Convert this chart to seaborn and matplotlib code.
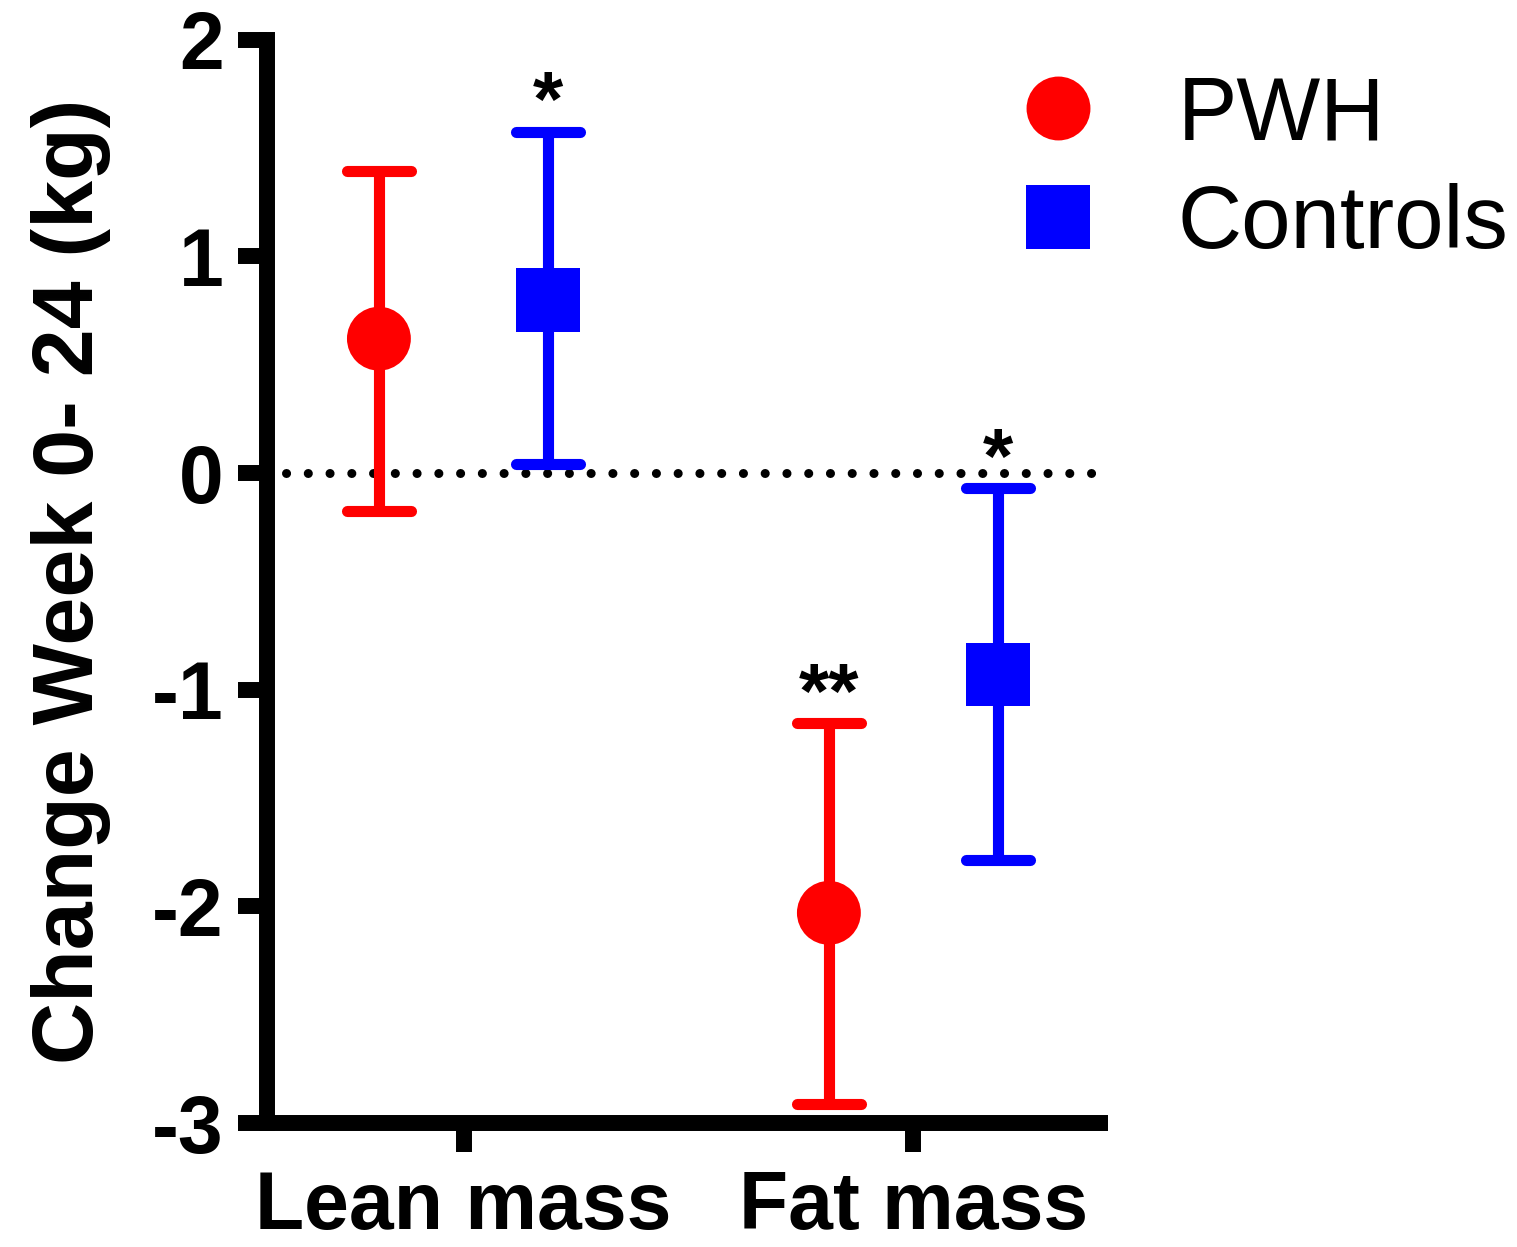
import matplotlib
matplotlib.use("Agg")
import matplotlib.pyplot as plt
from matplotlib.lines import Line2D
from matplotlib.markers import MarkerStyle
import numpy as np
import pandas as pd
import seaborn as sns

# Change from week 0 to week 24 (kg): mean with 95% CI
categories = ["Lean mass", "Fat mass"]
groups = ["PWH", "Controls"]
pwh_mean = [0.62, -2.03]
pwh_low = [-0.175, -2.91]
pwh_high = [1.395, -1.155]
ctrl_mean = [0.80, -0.93]
ctrl_low = [0.04, -1.785]
ctrl_high = [1.575, -0.07]
pwh_sig = ["", "**"]
ctrl_sig = ["*", "*"]
y_ticks = [2, 1, 0, -1, -2, -3]

colors = {"PWH": "#FF0000", "Controls": "#0000FF"}
markers = {"PWH": "o", "Controls": "s"}
offsets = {"PWH": -0.188, "Controls": 0.188}

rows = []
for g, means, lows, highs, sigs in [
    ("PWH", pwh_mean, pwh_low, pwh_high, pwh_sig),
    ("Controls", ctrl_mean, ctrl_low, ctrl_high, ctrl_sig),
]:
    for i, c in enumerate(categories):
        rows.append(dict(group=g, category=c, pos=i + offsets[g],
                         mean=means[i], low=lows[i], high=highs[i], sig=sigs[i]))
df = pd.DataFrame(rows)

sns.set_theme(style="ticks")
plt.rcParams["font.family"] = ["Liberation Sans", "DejaVu Sans"]
plt.rcParams.update({"text.color": "black", "axes.labelcolor": "black",
                     "xtick.color": "black", "ytick.color": "black",
                     "axes.edgecolor": "black"})

W, H = 1517, 1247
fig = plt.figure(figsize=(W / 100, H / 100), dpi=100)
ax = fig.add_axes([267 / W, (H - 1123) / H, (1108 - 267) / W, (1123 - 39.7) / H])

# zero reference line
ax.axhline(0, xmin=0.022, xmax=0.99, color="black", linewidth=6.5,
           linestyle=(0, (0.01, 2.4)), dash_capstyle="round", zorder=1)

# confidence intervals
for g in groups:
    sub = df[df.group == g]
    err = np.vstack([sub["mean"] - sub["low"], sub["high"] - sub["mean"]])
    _, caps, bars = ax.errorbar(sub["pos"], sub["mean"], yerr=err, fmt="none",
                                ecolor=colors[g], elinewidth=8, capsize=23,
                                capthick=8, zorder=2)
    for cap in caps:
        cap.set_marker(MarkerStyle("_", capstyle="round"))

# group means
sns.scatterplot(data=df, x="pos", y="mean", hue="group", style="group",
                markers=markers, palette=colors, s=46 ** 2, linewidth=0,
                legend=False, ax=ax, zorder=3)

# significance marks above the intervals
for _, r in df.iterrows():
    if r["sig"]:
        ax.annotate(r["sig"], xy=(r["pos"], r["high"]), xytext=(0, 4),
                    textcoords="offset points", ha="center", va="baseline",
                    fontsize=56, fontweight="bold", color="black")

ax.set_xlim(-0.4367, 1.4323)
ax.set_ylim(-3, 2)
ax.set_xticks(range(len(categories)))
ax.set_xticklabels(categories)
ax.set_yticks(y_ticks)
ax.set_yticklabels([str(t) for t in y_ticks])
ax.set_xlabel("")
ax.set_ylabel("Change Week 0- 24 (kg)", fontsize=62, fontweight="bold")
ax.yaxis.set_label_coords(-0.186, 0.5)

for side in ["top", "right"]:
    ax.spines[side].set_visible(False)
for side in ["left", "bottom"]:
    ax.spines[side].set_linewidth(11.5)
    ax.spines[side].set_color("black")
ax.spines["bottom"].set_capstyle("butt")
ax.tick_params(axis="both", width=11.5, length=21, color="black",
               labelsize=58, labelcolor="black")
ax.tick_params(axis="y", pad=10)
ax.tick_params(axis="x", pad=13)
for lab in ax.get_xticklabels() + ax.get_yticklabels():
    lab.set_fontweight("bold")
ax.set_facecolor("white")

handles = [Line2D([], [], marker=markers[g], color=colors[g], linestyle="none",
                  markersize=46, markeredgewidth=0) for g in groups]
fig.legend(handles, groups, loc="center left", bbox_to_anchor=(1014 / W, 1 - 171 / H),
           frameon=False, fontsize=64, handlelength=1.0, handletextpad=0.84,
           labelspacing=0.28, borderpad=0, borderaxespad=0)

fig.savefig("out.png", dpi=100, facecolor="white")
